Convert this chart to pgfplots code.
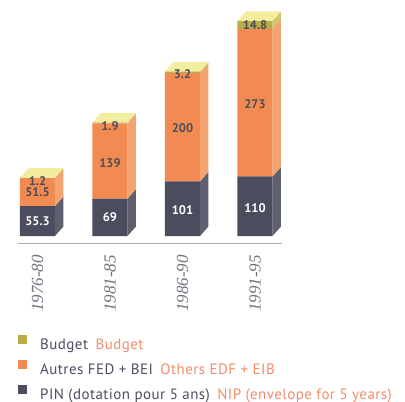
\documentclass[border=0pt]{standalone}
\usepackage{pgfplots}
\pgfplotsset{compat=1.18}
\usepackage{fontspec}
\setmainfont{PT Sans}
\newfontfamily\legfont[LetterSpace=3]{PT Sans}
\newfontfamily\yearfont{Liberation Serif}
\definecolor{pinfront}{HTML}{4B4C5E}
\definecolor{pinside}{HTML}{5E6070}
\definecolor{orfront}{HTML}{F18B52}
\definecolor{orside}{HTML}{F4A470}
\definecolor{budfront}{HTML}{B9AD45}
\definecolor{budside}{HTML}{D2C66A}
\definecolor{topface}{HTML}{F3EDA0}
\definecolor{frtext}{HTML}{4B4D63}
\definecolor{entext}{HTML}{F28C6C}
\definecolor{labdark}{HTML}{4E4C58}
\definecolor{yeargray}{HTML}{73737F}
\definecolor{basegray}{HTML}{A9ABB8}

\pgfplotstableread{
x pin autres budget
0 55.3 51.5 1.2
1 69 139 1.9
2 101 200 3.2
3 110 273 14.8
}\datatable

\pgfplotsset{
  common/.style={
    at={(0pt,0pt)}, anchor=south west,
    scale only axis, width=405pt, height=402pt,
    xmin=-0.5172, xmax=5.069, ymin=-306.8, ymax=436.2,
    hide axis, clip=false,
  },
  sq/.style={legend image code/.code={\fill[##1,draw=none] (0pt,1.5pt) rectangle (9pt,10.5pt);}},
}

\begin{document}
\begin{tikzpicture}
\useasboundingbox (0,0) rectangle (405pt,402pt);
% front faces
\begin{axis}[common,
  ybar stacked, bar width=0.483,
  reverse legend,
  legend cell align=left,
  legend style={at={(axis cs:-0.269,-183)}, anchor=north west,
    draw=none, fill=none, inner sep=0pt, column sep=13pt, row sep=8pt,
    font=\legfont\fontsize{15}{17}\selectfont,
    nodes={inner sep=0pt, text height=10pt, text depth=3pt}},
]
\addplot[fill=pinfront, draw=none, sq] table[x=x,y=pin] {\datatable};
\addplot[fill=orfront, draw=none, sq] table[x=x,y=autres] {\datatable};
\addplot[fill=budfront, draw=none, sq] table[x=x,y=budget] {\datatable};
\addlegendentry{\textcolor{frtext}{PIN (dotation pour 5 ans)}\hspace{0.5em}\textcolor{entext}{NIP (envelope for 5 years)}}
\addlegendentry{\textcolor{frtext}{Autres FED + BEI}\hspace{0.5em}\textcolor{entext}{Others EDF + EIB}}
\addlegendentry{\textcolor{frtext}{Budget}\hspace{0.5em}\textcolor{entext}{Budget}}
\end{axis}
% side and top faces, labels
\begin{axis}[common]
% PIN sides
\addplot[fill=pinside, draw=none] coordinates {(0.2414,0) (0.3586,17.6) (0.3586,72.9) (0.2414,55.3)} --cycle;
\addplot[fill=pinside, draw=none] coordinates {(1.2414,0) (1.3586,17.6) (1.3586,86.6) (1.2414,69)} --cycle;
\addplot[fill=pinside, draw=none] coordinates {(2.2414,0) (2.3586,17.6) (2.3586,118.6) (2.2414,101)} --cycle;
\addplot[fill=pinside, draw=none] coordinates {(3.2414,0) (3.3586,17.6) (3.3586,127.6) (3.2414,110)} --cycle;
% orange sides
\addplot[fill=orside, draw=none] coordinates {(0.2414,55.3) (0.3586,72.9) (0.3586,124.4) (0.2414,106.8)} --cycle;
\addplot[fill=orside, draw=none] coordinates {(1.2414,69) (1.3586,86.6) (1.3586,225.6) (1.2414,208)} --cycle;
\addplot[fill=orside, draw=none] coordinates {(2.2414,101) (2.3586,118.6) (2.3586,318.6) (2.2414,301)} --cycle;
\addplot[fill=orside, draw=none] coordinates {(3.2414,110) (3.3586,127.6) (3.3586,400.6) (3.2414,383)} --cycle;
% budget sides
\addplot[fill=budside, draw=none] coordinates {(0.2414,106.8) (0.3586,124.4) (0.3586,125.6) (0.2414,108)} --cycle;
\addplot[fill=budside, draw=none] coordinates {(1.2414,208) (1.3586,225.6) (1.3586,227.5) (1.2414,209.9)} --cycle;
\addplot[fill=budside, draw=none] coordinates {(2.2414,301) (2.3586,318.6) (2.3586,321.8) (2.2414,304.2)} --cycle;
\addplot[fill=budside, draw=none] coordinates {(3.2414,383) (3.3586,400.6) (3.3586,415.4) (3.2414,397.8)} --cycle;
% tops
\addplot[fill=topface, draw=none] coordinates {(-0.2414,108) (-0.1242,125.6) (0.3586,125.6) (0.2414,108)} --cycle;
\addplot[fill=topface, draw=none] coordinates {(0.7586,209.9) (0.8758,227.5) (1.3586,227.5) (1.2414,209.9)} --cycle;
\addplot[fill=topface, draw=none] coordinates {(1.7586,304.2) (1.8758,321.8) (2.3586,321.8) (2.2414,304.2)} --cycle;
\addplot[fill=topface, draw=none] coordinates {(2.7586,397.8) (2.8758,415.4) (3.3586,415.4) (3.2414,397.8)} --cycle;
% baseline
\addplot[basegray, line width=1.4pt] coordinates {(-0.269,-13.9) (3.372,-13.9)};
% white labels on PIN
\addplot[only marks, mark=none, nodes near coords, point meta=explicit symbolic,
  every node near coord/.append style={anchor=center, text=white, font=\fontsize{12.5}{14}\selectfont\bfseries}]
  table[meta=l] {
x y l
0 27.7 55.3
1 34.5 69
2 48 101
3 51.8 110
};
% dark labels
\addplot[only marks, mark=none, nodes near coords, point meta=explicit symbolic,
  every node near coord/.append style={anchor=center, text=labdark, font=\fontsize{12.5}{14}\selectfont\bfseries}]
  table[meta=l] {
x y l
0 81.3 51.5
0 102 1.2
1 135 139
1 204 1.9
2 199.6 200
2 300 3.2
3 244 273
3 390 14.8
};
% year labels
\addplot[only marks, mark=none, nodes near coords, point meta=explicit symbolic,
  every node near coord/.append style={anchor=center, rotate=90, text=yeargray, font=\yearfont\itshape\fontsize{17}{19}\selectfont}]
  table[meta=l] {
x y l
0 -87.8 1976-80
1 -87.8 1981-85
2 -87.8 1986-90
3 -87.8 1991-95
};
\end{axis}
\end{tikzpicture}
\end{document}
